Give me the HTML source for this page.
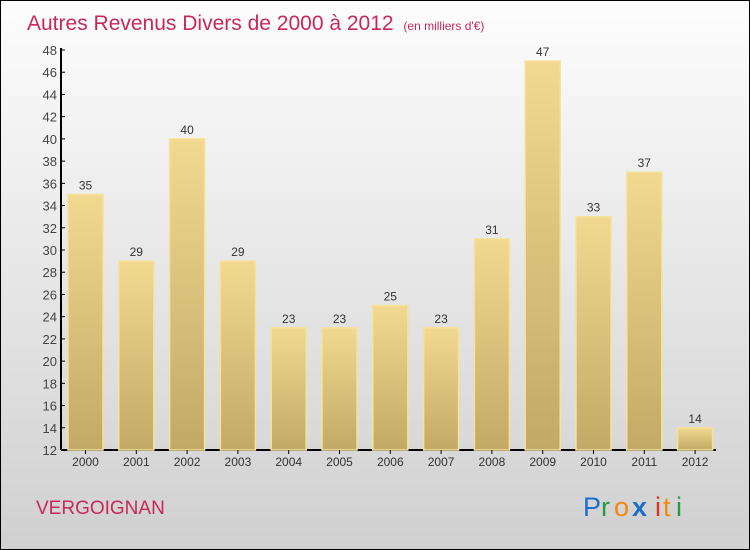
<!DOCTYPE html>
<html><head><meta charset="utf-8"><style>
html,body{margin:0;padding:0;}
body{width:750px;height:550px;overflow:hidden;font-family:"Liberation Sans",sans-serif;}
#wrap{position:absolute;left:0;top:0;width:748px;height:548px;border:1px solid #000;background:linear-gradient(#fdfdfd,#d0d0d0);}
</style></head><body>
<div id="wrap">
<svg width="748" height="548" viewBox="1 1 748 548" style="position:absolute;left:0;top:0">
<defs>
<linearGradient id="bg" x1="0" y1="0" x2="0" y2="1"><stop offset="0" stop-color="#f2d990"/><stop offset="1" stop-color="#c2aa66"/></linearGradient>
</defs>
<text x="27" y="30" font-size="21" fill="#c8285a">Autres Revenus Divers de 2000 à 2012 <tspan font-size="12" dx="4">(en milliers d'€)</tspan></text>
<g id="yaxis"></g>
<g id="bars"></g>
<text x="36" y="514" font-size="19" fill="#c8285a">VERGOIGNAN</text>
<g font-size="27" font-family="'Liberation Sans',sans-serif">
<text x="583" y="516" fill="#1a6fcc">P</text><text x="601" y="516" fill="#2a9a40">r</text><text x="614" y="516" fill="#f08a10">o</text><text x="632" y="516" fill="#1a6fcc" font-weight="bold">x</text><text x="655" y="516" fill="#e03020">i</text><text x="663" y="516" fill="#f08a10">t</text><text x="676" y="516" fill="#2a9a40">i</text>
</g>
</svg>
</div>
<script>
const years=["2000","2001","2002","2003","2004","2005","2006","2007","2008","2009","2010","2011","2012"];
const values=[35,29,40,29,23,23,25,23,31,47,33,37,14];
const yTicks=[12,14,16,18,20,22,24,26,28,30,32,34,36,38,40,42,44,46,48];
const NS="http://www.w3.org/2000/svg";
const y0=450,y1=50,vMin=12,vMax=48;
function ys(v){return y0-(v-vMin)/(vMax-vMin)*(y0-y1);}
function xs(i){return 68+i*50.8;}
const bw=35;
function mk(t,a,p){const e=document.createElementNS(NS,t);for(const k in a)e.setAttribute(k,a[k]);p.appendChild(e);return e;}
const ya=document.getElementById('yaxis');
mk('line',{x1:61,y1:ys(48)-2,x2:61,y2:y0,stroke:'#000','stroke-width':2},ya);
mk('line',{x1:61,y1:y0,x2:716,y2:y0,stroke:'#000','stroke-width':2},ya);
yTicks.forEach(v=>{
 const l=mk('line',{x1:61,y1:ys(v),x2:65,y2:ys(v),stroke:'#000'},ya);
 
 
 const t=mk('text',{x:57,y:ys(v)+5,'font-size':13,fill:'#444','text-anchor':'end'},ya);
 t.textContent=v;
 
 
});
const bg=document.getElementById('bars');
values.forEach((v,i)=>{
 const x=xs(i);
 const r=mk('rect',{x:x,y:ys(v),width:bw,height:y0-ys(v),fill:'url(#bg)',stroke:'#f5e29a','stroke-width':1.5},bg);
 
 
 const t=mk('text',{x:x+bw/2,y:ys(v)-5,'font-size':12,fill:'#333','text-anchor':'middle'},bg);
 t.textContent=v;
 
 
 mk('line',{x1:x+bw/2,y1:y0,x2:x+bw/2,y2:y0+4,stroke:'#000'},bg);
 const xl=mk('text',{x:x+bw/2,y:466,'font-size':12,fill:'#333','text-anchor':'middle'},bg);
 xl.textContent=years[i];
 
 
});
</script>
</body></html>
